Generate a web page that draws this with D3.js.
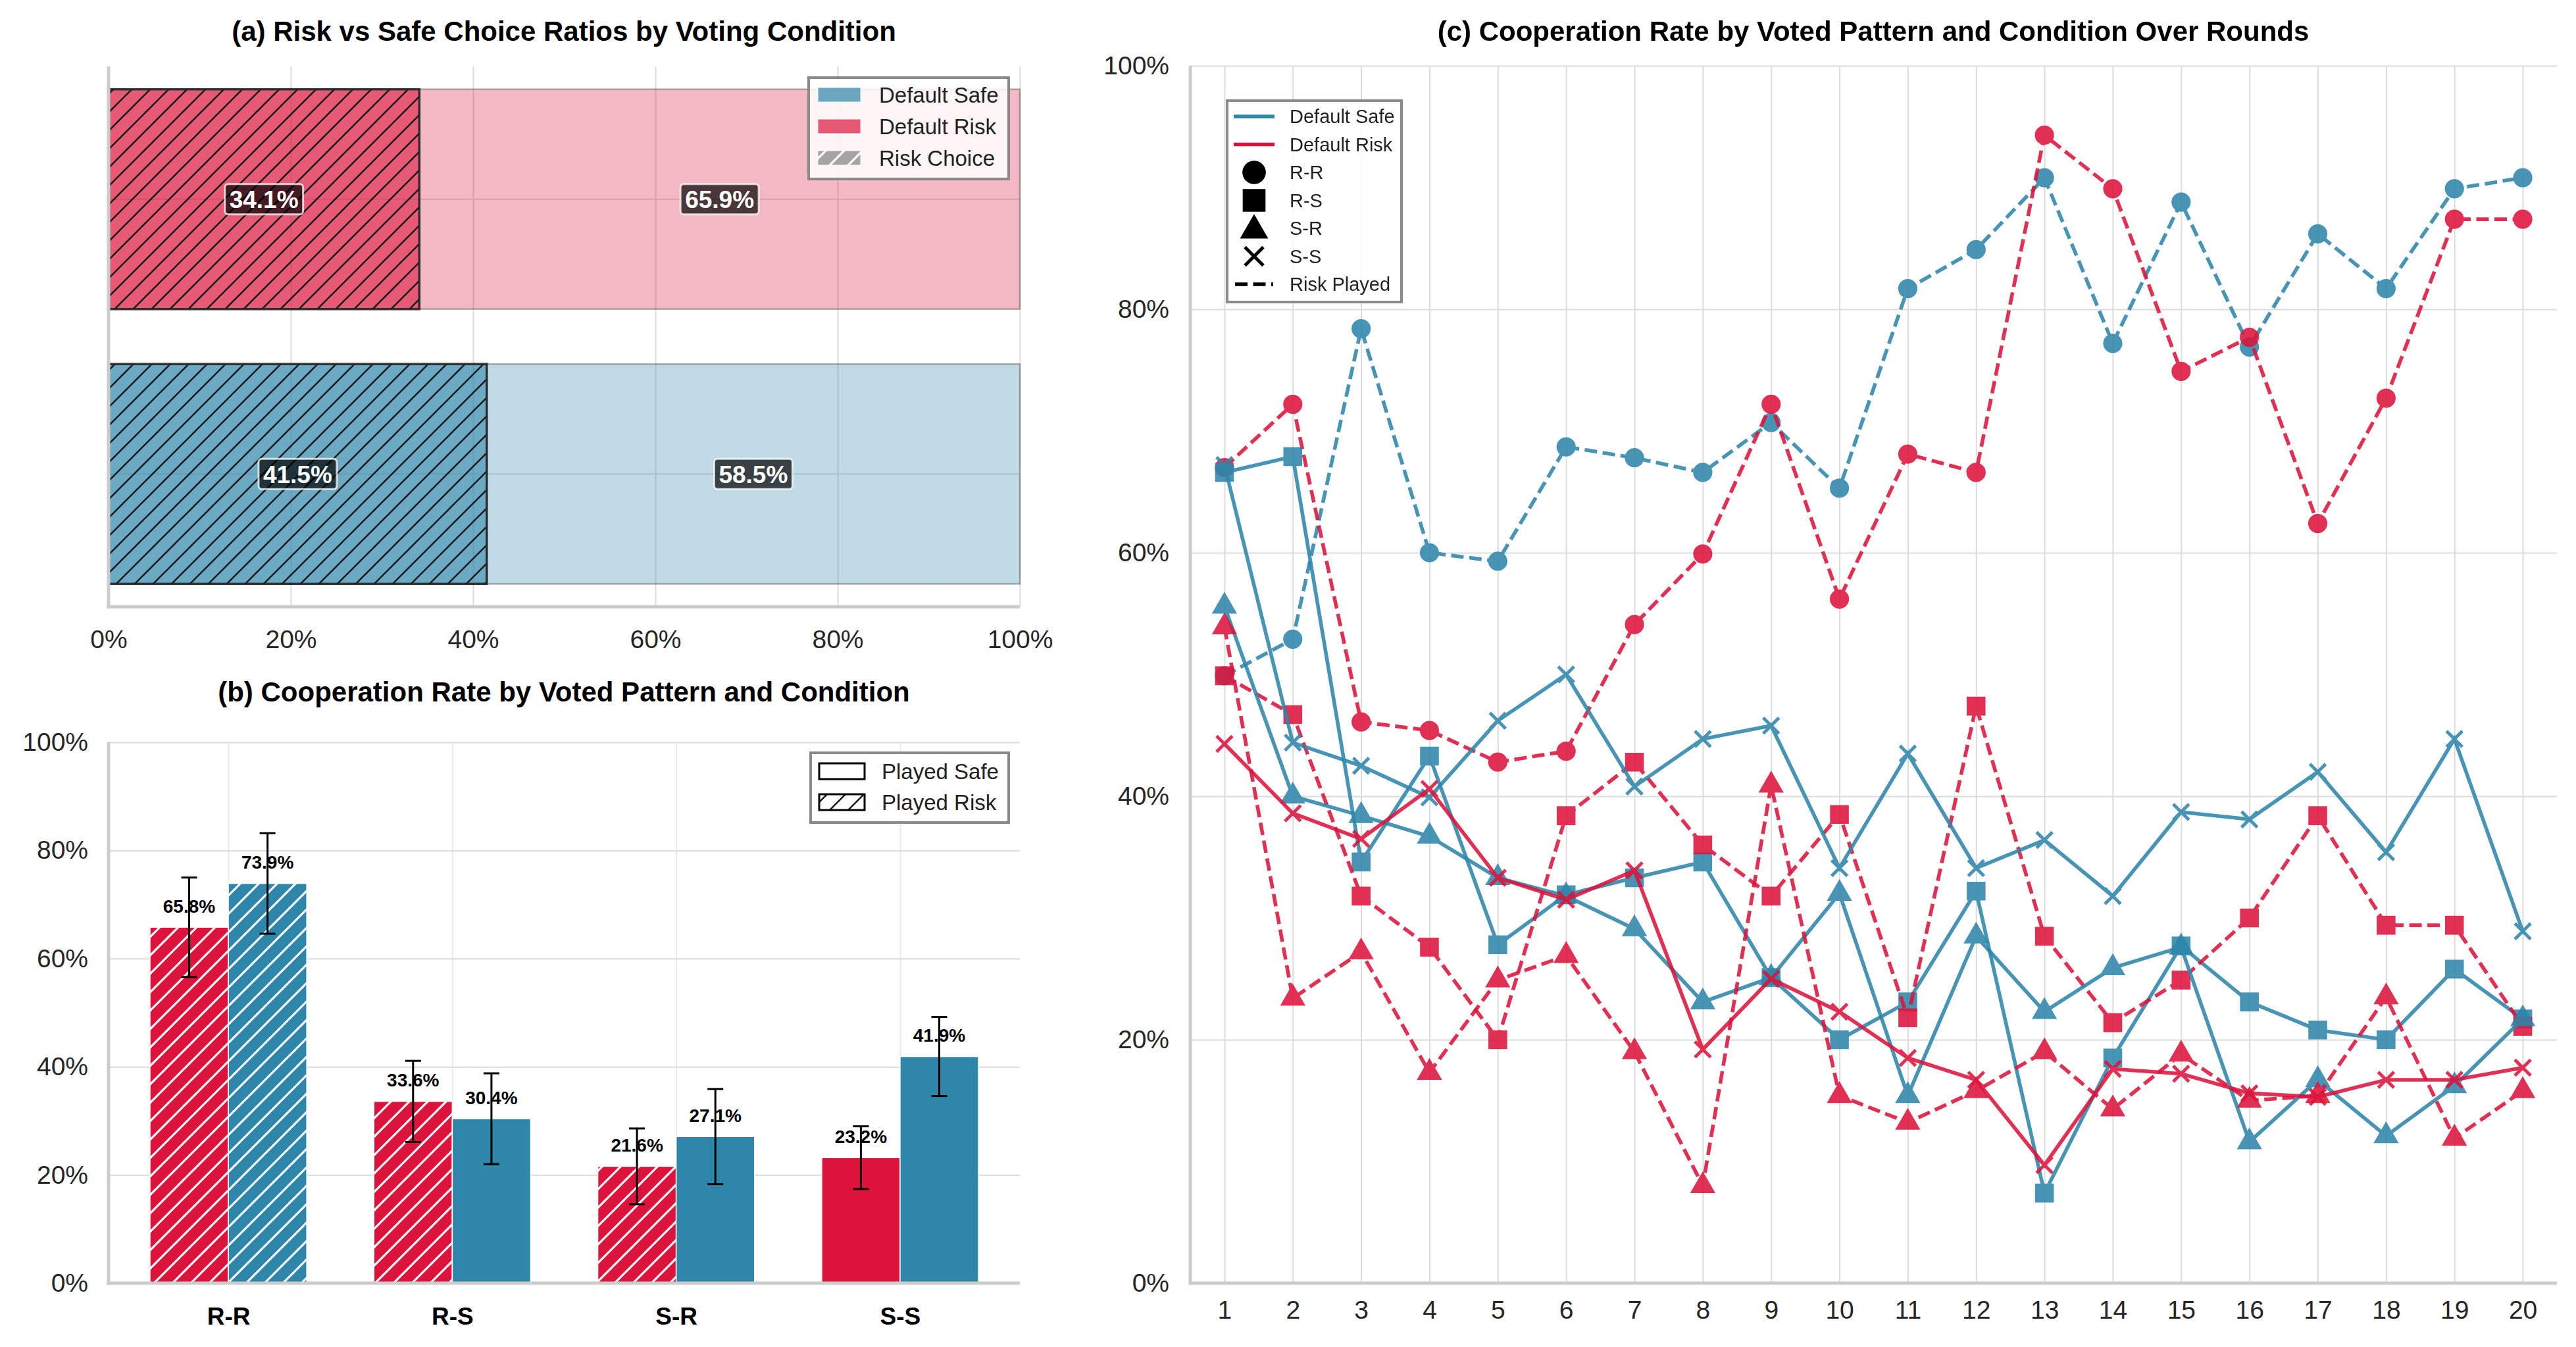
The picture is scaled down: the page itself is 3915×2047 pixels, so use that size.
<!DOCTYPE html>
<html>
<head>
<meta charset="utf-8">
<script src="https://cdn.jsdelivr.net/npm/d3@7"></script>
<style>
  body { margin: 0; background: #fff; }
  svg { display: block; font-family: "Liberation Sans", Arial, sans-serif; }
</style>
</head>
<body>
<svg id="chart" width="3915" height="2047"></svg>
<script>
// ---- data ----
const conditions = ['Default Risk', 'Default Safe'];
const riskChoicePct = [34.1, 41.5];

const patterns = ['R-R', 'R-S', 'S-R', 'S-S'];
const coopRisk = [65.8, 33.6, 21.6, 23.2];
const coopSafe = [73.9, 30.4, 27.1, 41.9];
const errRisk = [9.2, 7.5, 7.0, 5.8];
const errSafe = [9.3, 8.4, 8.8, 7.3];
const hatchRisk = [true, true, true, false];
const hatchSafe = [true, false, false, false];

const rounds = [1, 2, 3, 4, 5, 6, 7, 8, 9, 10, 11, 12, 13, 14, 15, 16, 17, 18, 19, 20];
const safeRR = [49.9, 52.9, 78.4, 60.0, 59.3, 68.7, 67.8, 66.6, 70.7, 65.3, 81.7, 84.9, 90.8, 77.2, 88.8, 76.9, 86.2, 81.7, 89.9, 90.8];
const safeRS = [66.6, 67.9, 34.6, 43.3, 27.8, 31.9, 33.3, 34.6, 25.1, 20.0, 23.1, 32.2, 7.4, 18.5, 27.7, 23.1, 20.8, 20.0, 25.8, 21.7];
const safeSR = [55.6, 40.0, 38.4, 36.7, 33.3, 31.8, 29.1, 23.1, 25.1, 32.0, 15.4, 28.5, 22.3, 25.9, 27.6, 11.6, 16.7, 12.1, 16.2, 21.7];
const safeSS = [67.2, 44.4, 42.5, 39.9, 46.2, 50.0, 40.8, 44.7, 45.8, 34.1, 43.5, 34.1, 36.4, 31.8, 38.7, 38.1, 42.0, 35.4, 44.7, 28.9];
const riskRR = [67.0, 72.2, 46.1, 45.4, 42.8, 43.7, 54.1, 59.9, 72.2, 56.2, 68.1, 66.6, 94.3, 89.9, 74.9, 77.7, 62.4, 72.7, 87.4, 87.4];
const riskRS = [49.9, 46.7, 31.8, 27.6, 20.0, 38.4, 42.8, 36.0, 31.8, 38.5, 21.8, 47.4, 28.5, 21.4, 24.9, 30.0, 38.4, 29.4, 29.4, 21.1];
const riskSR = [53.9, 23.4, 27.2, 17.3, 24.9, 26.9, 19.0, 8.0, 40.9, 15.4, 13.2, 15.8, 19.0, 14.3, 18.8, 15.0, 15.4, 23.5, 11.9, 15.8];
const riskSS = [44.3, 38.6, 36.5, 40.6, 33.3, 31.5, 33.9, 19.2, 25.0, 22.3, 18.5, 16.7, 9.7, 17.6, 17.2, 15.6, 15.3, 16.7, 16.7, 17.7];

const pctTicks = [0, 20, 40, 60, 80, 100];

const RED = '#DC143C', BLUE = '#2E86AB';
const GRID = '#dcdcdc', SPINE = '#cccccc', TICK = '#262626';

const svg = d3.select('#chart');
const defs = svg.append('defs');

function hatch(id, color, w) {
  const p = defs.append('pattern').attr('id', id).attr('patternUnits', 'userSpaceOnUse')
    .attr('width', 28).attr('height', 28);
  p.append('path').attr('d', 'M-7,7 L7,-7 M0,28 L28,0 M21,35 L35,21')
    .attr('stroke', color).attr('stroke-width', w);
}
hatch('hBlack', '#1a1a1a', 2.6);
hatch('hWhite', '#ffffff', 3.2);

function styleTicks(g, size, bold) {
  g.select('.domain').remove();
  g.selectAll('text').attr('font-size', size).attr('fill', TICK)
    .attr('font-family', '"Liberation Sans", Arial, sans-serif')
    .attr('font-weight', bold ? 'bold' : 'normal');
}
function title(x, y, txt) {
  svg.append('text').attr('x', x).attr('y', y).attr('text-anchor', 'middle')
    .attr('font-size', 42).attr('font-weight', 'bold').attr('fill', '#000').text(txt);
}
function spines(x0, x1, y0, y1) {
  svg.append('line').attr('x1', x0).attr('x2', x0).attr('y1', y0).attr('y2', y1 + 2.5)
    .attr('stroke', SPINE).attr('stroke-width', 5);
  svg.append('line').attr('x1', x0 - 2.5).attr('x2', x1).attr('y1', y1).attr('y2', y1)
    .attr('stroke', SPINE).attr('stroke-width', 5);
}

// ================= (a) =================
const xA = d3.scaleLinear().domain([0, 100]).range([165, 1550]);
const yA = d3.scaleBand().domain(conditions).range([101, 922]).paddingInner(0.2).paddingOuter(0.083);
const colA = { 'Default Risk': RED, 'Default Safe': BLUE };

const gA = svg.append('g');
gA.append('g').attr('transform', 'translate(0,922)')
  .call(d3.axisBottom(xA).tickValues(pctTicks).tickSize(-821).tickFormat(''))
  .call(g => { g.select('.domain').remove(); g.selectAll('line').attr('stroke', GRID).attr('stroke-width', 2); });
conditions.forEach(c => {
  gA.append('line').attr('x1', 165).attr('x2', 1550)
    .attr('y1', yA(c) + yA.bandwidth() / 2).attr('y2', yA(c) + yA.bandwidth() / 2)
    .attr('stroke', GRID).attr('stroke-width', 2);
});

conditions.forEach((c, i) => {
  const y = yA(c), h = yA.bandwidth(), r = riskChoicePct[i];
  gA.append('rect').attr('x', xA(r)).attr('y', y).attr('width', xA(100) - xA(r)).attr('height', h)
    .attr('fill', colA[c]).attr('fill-opacity', 0.3)
    .attr('stroke', '#555').attr('stroke-opacity', 0.45).attr('stroke-width', 2.5);
  gA.append('rect').attr('x', xA(0)).attr('y', y).attr('width', xA(r) - xA(0)).attr('height', h)
    .attr('fill', colA[c]).attr('fill-opacity', 0.7);
  gA.append('rect').attr('x', xA(0)).attr('y', y).attr('width', xA(r) - xA(0)).attr('height', h)
    .attr('fill', 'url(#hBlack)').attr('stroke', '#222').attr('stroke-opacity', 0.9).attr('stroke-width', 3.5);
  // labels
  [[r / 2, r], [r + (100 - r) / 2, 100 - r]].forEach(([pos, val]) => {
    const lbl = gA.append('g').attr('transform', `translate(${xA(pos)},${y + h / 2})`);
    const t = lbl.append('text').attr('text-anchor', 'middle').attr('dy', '0.36em')
      .attr('font-size', 37).attr('font-weight', 'bold').attr('fill', '#fff').text(val.toFixed(1) + '%');
    const bb = t.node().getBBox();
    lbl.insert('rect', 'text').attr('x', bb.x - 7).attr('y', -23).attr('width', bb.width + 14).attr('height', 46)
      .attr('rx', 5).attr('fill', '#000').attr('fill-opacity', 0.7)
      .attr('stroke', '#fff').attr('stroke-opacity', 0.75).attr('stroke-width', 3);
  });
});

gA.append('g').attr('transform', 'translate(0,922)')
  .call(d3.axisBottom(xA).tickValues(pctTicks).tickSize(0).tickPadding(35).tickFormat(d => d + '%'))
  .call(g => styleTicks(g, 39));
spines(165, 1550, 101, 922);
title(857, 62, '(a) Risk vs Safe Choice Ratios by Voting Condition');

// legend (a)
const lgA = svg.append('g');
lgA.append('rect').attr('x', 1229).attr('y', 118).attr('width', 304).attr('height', 154)
  .attr('fill', '#fff').attr('fill-opacity', 0.85).attr('stroke', '#8a8a8a').attr('stroke-width', 4);
[['Default Safe', BLUE, 0.7, null], ['Default Risk', RED, 0.7, null], ['Risk Choice', '#888', 0.75, 'hWhite']]
  .forEach(([name, col, op, hp], i) => {
    const cy = 144 + i * 48;
    lgA.append('rect').attr('x', 1243).attr('y', cy - 11).attr('width', 65).attr('height', 22)
      .attr('fill', col).attr('fill-opacity', op).attr('stroke', '#fff').attr('stroke-opacity', 0.6).attr('stroke-width', 1.5);
    if (hp) lgA.append('rect').attr('x', 1243).attr('y', cy - 11).attr('width', 65).attr('height', 22).attr('fill', `url(#${hp})`);
    lgA.append('text').attr('x', 1336).attr('y', cy).attr('dy', '0.35em')
      .attr('font-size', 33).attr('fill', '#222').text(name);
  });

// ================= (b) =================
const xB = d3.scaleLinear().domain([-0.535, 3.535]).range([165, 1550]);
const yB = d3.scaleLinear().domain([0, 100]).range([1950, 1128]);
const bw = 0.35;
const gB = svg.append('g');
gB.append('g').attr('transform', 'translate(165,0)')
  .call(d3.axisLeft(yB).tickValues(pctTicks).tickSize(-1385).tickFormat(''))
  .call(g => { g.select('.domain').remove(); g.selectAll('line').attr('stroke', GRID).attr('stroke-width', 2); });
gB.append('g').attr('transform', 'translate(0,1950)')
  .call(d3.axisBottom(xB).tickValues([0, 1, 2, 3]).tickSize(-822).tickFormat(''))
  .call(g => { g.select('.domain').remove(); g.selectAll('line').attr('stroke', GRID).attr('stroke-opacity', 0.6).attr('stroke-width', 2); });

function barsB(vals, errs, hatches, col, off) {
  vals.forEach((v, i) => {
    const x0 = xB(i + off - bw / 2), w = xB(i + off + bw / 2) - x0;
    gB.append('rect').attr('x', x0).attr('y', yB(v)).attr('width', w).attr('height', yB(0) - yB(v))
      .attr('fill', col).attr('stroke', '#fff').attr('stroke-width', 1.5);
    if (hatches[i]) gB.append('rect').attr('x', x0).attr('y', yB(v)).attr('width', w).attr('height', yB(0) - yB(v))
      .attr('fill', 'url(#hWhite)');
  });
}
barsB(coopRisk, errRisk, hatchRisk, RED, -bw / 2);
barsB(coopSafe, errSafe, hatchSafe, BLUE, bw / 2);

function errB(vals, errs, off) {
  vals.forEach((v, i) => {
    const cx = xB(i + off);
    gB.append('line').attr('x1', cx).attr('x2', cx).attr('y1', yB(v - errs[i])).attr('y2', yB(v + errs[i]))
      .attr('stroke', '#000').attr('stroke-width', 3);
    [v - errs[i], v + errs[i]].forEach(e => {
      gB.append('line').attr('x1', cx - 12).attr('x2', cx + 12).attr('y1', yB(e)).attr('y2', yB(e))
        .attr('stroke', '#000').attr('stroke-width', 3);
    });
    gB.append('text').attr('x', cx).attr('y', yB(v + 2) - 6).attr('text-anchor', 'middle')
      .attr('font-size', 28).attr('font-weight', 'bold').attr('fill', '#000').text(v.toFixed(1) + '%');
  });
}
errB(coopRisk, errRisk, -bw / 2);
errB(coopSafe, errSafe, bw / 2);

gB.append('g').attr('transform', 'translate(165,0)')
  .call(d3.axisLeft(yB).tickValues(pctTicks).tickSize(0).tickPadding(31).tickFormat(d => d + '%'))
  .call(g => styleTicks(g, 39));
gB.append('g').attr('transform', 'translate(0,1950)')
  .call(d3.axisBottom(xB).tickValues([0, 1, 2, 3]).tickSize(0).tickPadding(37).tickFormat(i => patterns[i]))
  .call(g => { styleTicks(g, 37, true); g.selectAll('text').attr('fill', '#000'); });
spines(165, 1550, 1128, 1950);
title(857, 1066, '(b) Cooperation Rate by Voted Pattern and Condition');

const lgB = svg.append('g');
lgB.append('rect').attr('x', 1232).attr('y', 1144).attr('width', 301).attr('height', 106)
  .attr('fill', '#fff').attr('fill-opacity', 0.85).attr('stroke', '#8a8a8a').attr('stroke-width', 4);
['Played Safe', 'Played Risk'].forEach((name, i) => {
  const cy = 1172 + i * 47;
  lgB.append('rect').attr('x', 1245).attr('y', cy - 12).attr('width', 69).attr('height', 24)
    .attr('fill', i ? 'url(#hBlack)' : '#fff').attr('stroke', '#000').attr('stroke-width', 3);
  lgB.append('text').attr('x', 1340).attr('y', cy).attr('dy', '0.35em')
    .attr('font-size', 33).attr('fill', '#222').text(name);
});

// ================= (c) =================
const xC = d3.scaleLinear().domain([0.5, 20.5]).range([1809, 3886]);
const yC = d3.scaleLinear().domain([0, 100]).range([1950, 100]);
const gC = svg.append('g');
gC.append('g').attr('transform', 'translate(1809,0)')
  .call(d3.axisLeft(yC).tickValues(pctTicks).tickSize(-2077).tickFormat(''))
  .call(g => { g.select('.domain').remove(); g.selectAll('line').attr('stroke', GRID).attr('stroke-width', 2); });
gC.append('g').attr('transform', 'translate(0,1950)')
  .call(d3.axisBottom(xC).tickValues(rounds).tickSize(-1850).tickFormat(''))
  .call(g => { g.select('.domain').remove(); g.selectAll('line').attr('stroke', GRID).attr('stroke-width', 2); });

const sym = {
  'R-R': d3.symbol(d3.symbolCircle, 560),
  'R-S': d3.symbol(d3.symbolSquare, 680),
  'S-R': d3.symbol(d3.symbolTriangle, 500),
  'S-S': null
};
function xPath(r) { return `M${-r},${-r}L${r},${r}M${-r},${r}L${r},${-r}`; }

const seriesC = [
  { vals: safeRR, col: BLUE, pat: 'R-R', dashed: true },
  { vals: riskRR, col: RED, pat: 'R-R', dashed: true },
  { vals: safeRS, col: BLUE, pat: 'R-S', dashed: false },
  { vals: riskRS, col: RED, pat: 'R-S', dashed: true },
  { vals: safeSR, col: BLUE, pat: 'S-R', dashed: false },
  { vals: riskSR, col: RED, pat: 'S-R', dashed: true },
  { vals: safeSS, col: BLUE, pat: 'S-S', dashed: false },
  { vals: riskSS, col: RED, pat: 'S-S', dashed: false }
];
const lineC = d3.line().x((d, i) => xC(rounds[i])).y(d => yC(d));
seriesC.forEach(s => {
  const g = gC.append('g').attr('opacity', 0.88);
  g.append('path').attr('d', lineC(s.vals)).attr('fill', 'none').attr('stroke', s.col)
    .attr('stroke-width', 5.6).attr('stroke-dasharray', s.dashed ? '19,8.5' : null);
  s.vals.forEach((v, i) => {
    const m = g.append('path').attr('transform', `translate(${xC(rounds[i])},${yC(v)})`);
    if (s.pat === 'S-S') m.attr('d', xPath(12)).attr('fill', 'none').attr('stroke', s.col).attr('stroke-width', 5);
    else m.attr('d', sym[s.pat]()).attr('fill', s.col).attr('stroke', s.col).attr('stroke-width', 2.5);
  });
});

gC.append('g').attr('transform', 'translate(1809,0)')
  .call(d3.axisLeft(yC).tickValues(pctTicks).tickSize(0).tickPadding(32).tickFormat(d => d + '%'))
  .call(g => styleTicks(g, 39));
gC.append('g').attr('transform', 'translate(0,1950)')
  .call(d3.axisBottom(xC).tickValues(rounds).tickSize(0).tickPadding(26))
  .call(g => styleTicks(g, 39));
spines(1809, 3886, 100, 1950);
title(2847, 62, '(c) Cooperation Rate by Voted Pattern and Condition Over Rounds');

// legend (c)
const lgC = svg.append('g');
lgC.append('rect').attr('x', 1865).attr('y', 153).attr('width', 265).attr('height', 306)
  .attr('fill', '#fff').attr('fill-opacity', 0.85).attr('stroke', '#8a8a8a').attr('stroke-width', 4);
const legC = [
  { name: 'Default Safe', kind: 'line', col: BLUE },
  { name: 'Default Risk', kind: 'line', col: RED },
  { name: 'R-R', kind: 'sym', sym: d3.symbol(d3.symbolCircle, 1000) },
  { name: 'R-S', kind: 'sym', sym: d3.symbol(d3.symbolSquare, 1200) },
  { name: 'S-R', kind: 'sym', sym: d3.symbol(d3.symbolTriangle, 800) },
  { name: 'S-S', kind: 'x' },
  { name: 'Risk Played', kind: 'dash' }
];
legC.forEach((e, i) => {
  const cy = 177 + i * 42.5;
  if (e.kind === 'line') lgC.append('line').attr('x1', 1875).attr('x2', 1937).attr('y1', cy).attr('y2', cy)
    .attr('stroke', e.col).attr('stroke-width', 5.6);
  else if (e.kind === 'dash') lgC.append('line').attr('x1', 1877).attr('x2', 1935).attr('y1', cy).attr('y2', cy)
    .attr('stroke', '#000').attr('stroke-width', 5.6).attr('stroke-dasharray', '19,8.5');
  else if (e.kind === 'x') lgC.append('path').attr('transform', `translate(1906,${cy})`).attr('d', xPath(14))
    .attr('stroke', '#000').attr('stroke-width', 5).attr('fill', 'none');
  else lgC.append('path').attr('transform', `translate(1906,${cy + (e.name === 'S-R' ? 3 : 0)})`).attr('d', e.sym()).attr('fill', '#000');
  lgC.append('text').attr('x', 1960).attr('y', cy).attr('dy', '0.35em')
    .attr('font-size', 29).attr('fill', '#222').text(e.name);
});
</script>
</body>
</html>
